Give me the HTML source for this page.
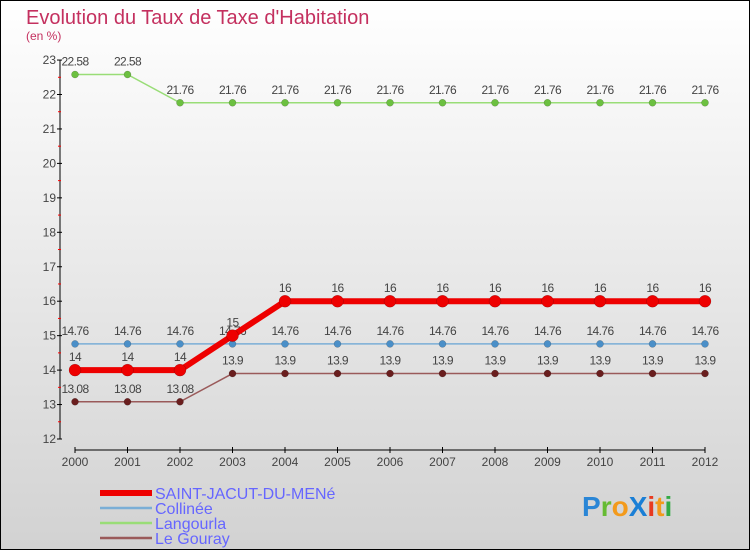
<!DOCTYPE html>
<html><head><meta charset="utf-8"><style>
body{margin:0;width:750px;height:550px;overflow:hidden;font-family:"Liberation Sans",sans-serif}
</style></head><body>
<svg id="c" width="750" height="550" xmlns="http://www.w3.org/2000/svg">
<defs><linearGradient id="bg" x1="0" y1="0" x2="0" y2="1"><stop offset="0" stop-color="#ffffff"/><stop offset="1" stop-color="#d2d2d2"/></linearGradient></defs>
<rect x="0.5" y="0.5" width="749" height="549" fill="url(#bg)" stroke="#000"/>
<text x="26" y="24" font-size="20" fill="#c4305f">Evolution du Taux de Taxe d'Habitation</text>
<text x="26" y="40" font-size="12" fill="#c4305f">(en %)</text>
<g id="axes"></g><g id="series"></g><g id="legend"></g>
<text x="582" y="516" font-size="28" font-weight="bold" fill="#2a86d6">P<tspan fill="#66bb33">r</tspan><tspan fill="#f39a1b">o</tspan><tspan fill="#1a7fd6">X</tspan><tspan fill="#e83a20">i</tspan><tspan fill="#f39a1b">t</tspan><tspan fill="#33aa44">i</tspan></text>
</svg>
<script>
const years=[2000,2001,2002,2003,2004,2005,2006,2007,2008,2009,2010,2011,2012];
const yTicks=[12,13,14,15,16,17,18,19,20,21,22,23];
const seriesNames=["SAINT-JACUT-DU-MENé","Collinée","Langourla","Le Gouray"];
const saint=[14,14,14,15,16,16,16,16,16,16,16,16,16];
const colline=[14.76,14.76,14.76,14.76,14.76,14.76,14.76,14.76,14.76,14.76,14.76,14.76,14.76];
const langourla=[22.58,22.58,21.76,21.76,21.76,21.76,21.76,21.76,21.76,21.76,21.76,21.76,21.76];
const gouray=[13.08,13.08,13.08,13.9,13.9,13.9,13.9,13.9,13.9,13.9,13.9,13.9,13.9];
const NS="http://www.w3.org/2000/svg";
const xs=i=>75+i*52.5;
const ys=v=>439-(v-12)*34.45;
function mk(t,a,p){const e=document.createElementNS(NS,t);for(const k in a)e.setAttribute(k,a[k]);p.appendChild(e);return e;}
const ax=document.getElementById('axes');
let e=mk('line',{x1:60,y1:60,x2:60,y2:439,stroke:'#000'},ax);


yTicks.forEach(v=>{
 mk('line',{x1:57,y1:ys(v),x2:62,y2:ys(v),stroke:'#000'},ax);
 if(v<23){mk('line',{x1:58,y1:ys(v+0.5),x2:61,y2:ys(v+0.5),stroke:'#f00'},ax);}
 const t=mk('text',{x:56,y:ys(v)+4,'font-size':12,fill:'#444','text-anchor':'end'},ax);t.textContent=v;
 
 
});
e=mk('line',{x1:75,y1:450,x2:705,y2:450,stroke:'#000'},ax);


years.forEach((y,i)=>{
 mk('line',{x1:xs(i),y1:447,x2:xs(i),y2:453,stroke:'#000'},ax);
 const t=mk('text',{x:xs(i),y:466,'font-size':12,fill:'#444','text-anchor':'middle'},ax);t.textContent=y;
 
 
});
const sg=document.getElementById('series');
function draw(vals,color,dot,w,r,name){
 const g=mk('g',{},sg);
 
 
 mk('polyline',{points:vals.map((v,i)=>xs(i)+','+ys(v)).join(' '),fill:'none',stroke:color,'stroke-width':w},g);
 vals.forEach((v,i)=>{
  const c=mk('circle',{cx:xs(i),cy:ys(v),r:r,fill:dot,stroke:'rgba(0,0,0,0.3)','stroke-width':0.5},g);
  
  
  const t=mk('text',{x:xs(i),y:ys(v)-9,'font-size':12,fill:'#444','text-anchor':'middle','letter-spacing':'-0.6'},g);
  t.textContent=String(v);
  
  
 });
}
draw(colline,'#7aaed6','#4a8fc8',1.5,3.5,'series-colline');
draw(gouray,'#9a5a5a','#6a1e1e',1.5,3.5,'series-le-gouray');
draw(langourla,'#99dd77','#6cc040',1.5,3.5,'series-langourla');
draw(saint,'#ee0000','#ee0000',6,6,'series-saint-jacut');
const lg=document.getElementById('legend');
const lc=['#ee0000','#7aaed6','#99dd77','#9a5a5a'];
seriesNames.forEach((n,i)=>{
 const y=493+i*15;
 const g=mk('g',{},lg);
 
 
 mk('line',{x1:100,y1:y,x2:152,y2:y,stroke:lc[i],'stroke-width':i==0?6:2.5},g);
 const t=mk('text',{x:155,y:y+6,'font-size':16,fill:'#6666ff'},g);t.textContent=n;
});
</script>
</body></html>
